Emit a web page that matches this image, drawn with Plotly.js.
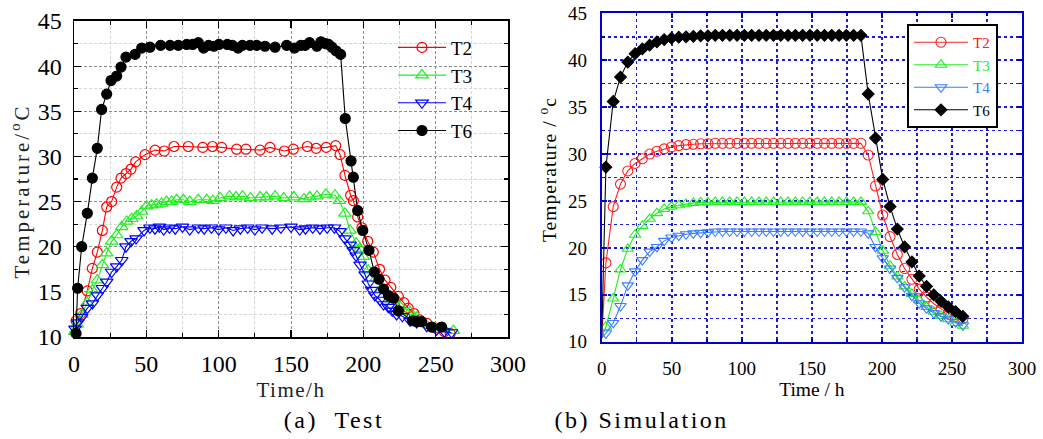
<!DOCTYPE html>
<html>
<head>
<meta charset="utf-8">
<script src="https://cdn.plot.ly/plotly-3.0.1.min.js"></script>
<style>html,body{margin:0;padding:0;background:#fff;}</style>
</head>
<body>
<div id="chart" style="width:1043px;height:439px;"></div>
<script>
// ---------- (a) Test ----------
const testT2_t = [1.5, 4.6, 9.2, 12.7, 16.1, 19.6, 22.6, 26, 29.5, 32.5, 36, 39.4, 42.6, 49.1, 56, 62.4, 69.1, 79, 89, 95.7, 102, 112.4, 118.8, 128.6, 135.5, 145.4, 151.6, 161.3, 167.4, 174.3, 180.9, 183.9, 187.3, 191.2, 193.1, 196.1, 199, 203, 206.9, 211.2, 215, 219, 224.2, 228, 231, 235, 239, 244, 250, 256, 260];
const testT2 = [11.8, 12.6, 15.1, 17.6, 19.4, 21.8, 24.4, 25.0, 26.6, 27.6, 28.1, 28.6, 29.4, 30.2, 30.7, 30.6, 31.1, 31.1, 31.0, 31.1, 31.0, 30.8, 30.8, 30.7, 31.0, 30.6, 30.8, 31.1, 30.9, 31.0, 31.2, 30.2, 27.9, 25.7, 25.1, 23.3, 22.1, 20.6, 19.4, 17.5, 16.3, 15.5, 14.5, 13.8, 13.2, 12.6, 11.9, 11.5, 11.0, 10.6, 10.4];

const testT3_t = [0.5, 2.3, 5.3, 9.2, 12.7, 16.1, 19.6, 22.6, 26, 29.5, 33, 36.4, 39.9, 43.3, 46.8, 50.2, 53.7, 57, 60.5, 64, 67.5, 71, 75.6, 80, 85.9, 91.7, 96, 101, 107.5, 112, 116.5, 122, 128.6, 133, 139, 145, 152, 159, 163, 168, 174.2, 180.4, 183.4, 187.3, 190.8, 195, 197.5, 200, 203.4, 208.8, 212.7, 219.6, 225.3, 232.3, 237, 242.6, 249.5, 255, 262.2];
const testT3 = [10.6, 11.4, 12.5, 13.8, 15.2, 16.3, 18.0, 19.3, 20.6, 21.3, 22.2, 22.8, 23.1, 23.4, 23.9, 24.5, 24.6, 24.7, 24.8, 25.0, 25.0, 25.2, 25.2, 25.0, 25.2, 25.2, 25.1, 25.4, 25.6, 25.5, 25.6, 25.4, 25.5, 25.5, 25.6, 25.4, 25.5, 25.3, 25.5, 25.6, 25.8, 25.7, 25.1, 23.7, 21.8, 20.4, 19.8, 18.9, 17.4, 16.5, 15.4, 14.2, 13.4, 12.8, 12.2, 11.5, 11.0, 11.0, 10.7];

const testT4_t = [0.7, 2.5, 5.3, 9.2, 12.7, 16.1, 19.6, 22.6, 26, 29.5, 33, 35.9, 39.4, 42.9, 48.4, 52.5, 56, 59, 62, 66, 70, 75, 80, 86, 90, 95, 100, 105, 110, 115, 120, 125, 130, 137, 143, 150, 156, 160, 165, 170, 175, 180, 183.9, 187.3, 190.8, 193, 195, 197.7, 201.2, 203.4, 205.8, 208, 211.5, 214, 217.3, 220, 223, 227, 232.3, 236.9, 243.8, 250.7, 256, 261];
const testT4 = [10.9, 11.6, 12.2, 13.2, 13.7, 14.6, 15.4, 16.1, 17.2, 17.8, 18.5, 20.0, 20.6, 20.9, 21.8, 22.1, 22.0, 22.2, 21.9, 22.1, 22.0, 22.2, 21.9, 22.1, 22.0, 22.1, 21.9, 22.1, 21.8, 22.0, 22.1, 21.9, 22.1, 22.0, 22.1, 22.2, 21.9, 22.0, 22.1, 22.0, 22.1, 22.1, 21.7, 20.9, 20.2, 19.6, 19.0, 18.0, 16.9, 15.9, 15.2, 14.6, 14.1, 13.6, 13.3, 12.9, 12.5, 12.3, 11.8, 11.6, 11.2, 10.8, 10.6, 10.5];

const testT6_t = [1.4, 2.5, 5.3, 9.2, 12.7, 16.1, 19.1, 22.6, 25.6, 29.5, 32.5, 35.9, 42.2, 46.8, 52.5, 59.9, 66.4, 72.1, 77.9, 82, 85.9, 89.6, 93, 96.7, 100.2, 106, 109.5, 113.4, 116.4, 121.7, 126.3, 132, 139, 147, 152.4, 156.8, 159.8, 162.8, 167.9, 170.7, 173.7, 176, 178.3, 181.1, 184.3, 187.5, 191.5, 193.1, 196.1, 199.6, 203.9, 207.6, 210.8, 214, 217.4, 220.9, 224.2, 234, 236.9, 240.2, 247.2, 254.1];
const testT6 = [10.4, 15.4, 20.0, 23.7, 27.6, 30.9, 35.2, 36.9, 38.4, 38.9, 39.9, 41.0, 41.3, 42.0, 42.1, 42.3, 42.3, 42.3, 42.4, 42.4, 42.6, 42.0, 42.3, 42.2, 42.4, 42.4, 42.3, 42.0, 42.3, 42.3, 42.3, 42.2, 42.1, 42.3, 42.0, 42.3, 42.3, 42.6, 42.2, 42.7, 42.5, 42.4, 42.1, 41.7, 41.3, 34.2, 29.5, 27.7, 24.0, 21.8, 19.6, 17.2, 16.4, 15.3, 14.6, 14.3, 12.9, 11.8, 11.7, 11.7, 11.1, 11.1];

// ---------- (b) Simulation ----------
const simTime = [0, 3, 8.2, 13.4, 18.6, 23.8, 29, 34.2, 39.4, 44.6, 49.8, 55, 60.2, 65.4, 70.6, 75.8, 81, 86.2, 91.4, 96.6, 101.8, 107, 112.2, 117.4, 122.6, 127.8, 133, 138.2, 143.4, 148.6, 153.8, 159, 164.2, 169.4, 174.6, 179.8, 185, 190.2, 195.4, 200.6, 205.8, 211, 216.2, 221.4, 226.6, 231.8, 237, 242.2, 247.4, 252.6, 257.8];
const simT2 = [10.4, 18.4, 24.4, 26.8, 28.2, 29.0, 29.5, 30.0, 30.3, 30.55, 30.75, 30.9, 31.0, 31.05, 31.1, 31.1, 31.15, 31.15, 31.15, 31.15, 31.15, 31.15, 31.15, 31.15, 31.15, 31.15, 31.15, 31.15, 31.15, 31.15, 31.15, 31.15, 31.15, 31.15, 31.15, 31.15, 31.15, 29.9, 26.6, 23.5, 21.2, 19.3, 17.8, 16.65, 15.6, 14.75, 14.05, 13.5, 13.05, 12.7, 12.45];
const simT3 = [10.5, 11.6, 14.6, 17.7, 19.9, 21.4, 22.35, 23.1, 23.7, 24.15, 24.4, 24.55, 24.7, 24.8, 24.85, 24.85, 24.9, 24.9, 24.9, 24.9, 24.9, 24.9, 24.9, 24.9, 24.9, 24.9, 24.9, 24.9, 24.9, 24.9, 24.9, 24.9, 24.9, 24.9, 24.9, 24.9, 24.9, 23.9, 21.7, 19.7, 18.1, 16.95, 15.9, 15.1, 14.4, 13.7, 13.2, 12.75, 12.4, 12.0, 11.7];
const simT4 = [10.4, 10.9, 12.0, 13.8, 16.0, 17.5, 18.7, 19.6, 20.1, 20.75, 21.1, 21.3, 21.45, 21.55, 21.6, 21.65, 21.75, 21.75, 21.75, 21.75, 21.75, 21.75, 21.75, 21.75, 21.75, 21.75, 21.75, 21.75, 21.75, 21.75, 21.75, 21.75, 21.75, 21.75, 21.75, 21.75, 21.75, 21.55, 20.1, 18.9, 17.8, 16.8, 15.8, 14.9, 14.1, 13.55, 13.05, 12.7, 12.4, 12.1, 11.75];
const simT6 = [10.4, 28.6, 35.6, 38.2, 39.8, 40.7, 41.2, 41.6, 41.95, 42.2, 42.35, 42.45, 42.5, 42.55, 42.6, 42.6, 42.65, 42.65, 42.65, 42.65, 42.65, 42.65, 42.65, 42.65, 42.65, 42.65, 42.65, 42.65, 42.65, 42.65, 42.65, 42.65, 42.65, 42.65, 42.65, 42.65, 42.65, 36.4, 31.7, 27.3, 24.4, 22.0, 20.1, 18.5, 17.0, 15.9, 15.0, 14.3, 13.7, 13.2, 12.7];

const seriesNames = ['T2', 'T3', 'T4', 'T6'];
const xTickVals = [0, 50, 100, 150, 200, 250, 300];
const yTickVals = [10, 15, 20, 25, 30, 35, 40, 45];

const SERIF = 'Liberation Serif, Tinos, Times New Roman, Times, serif';

const testStyle = [
  {color: '#ff0000', symbol: 'circle-open', size: 10},
  {color: '#22ee22', symbol: 'triangle-up-open', size: 11},
  {color: '#0000ff', symbol: 'triangle-down-open', size: 11},
  {color: '#000000', symbol: 'circle', size: 10}
];
const simStyle = [
  {color: '#ff2020', symbol: 'circle-open', size: 10},
  {color: '#22ee22', symbol: 'triangle-up-open', size: 10},
  {color: '#3a7dff', symbol: 'triangle-down-open', size: 10},
  {color: '#000000', symbol: 'diamond', size: 9}
];

const testX = [testT2_t, testT3_t, testT4_t, testT6_t];
const testY = [testT2, testT3, testT4, testT6];
const simY = [simT2, simT3, simT4, simT6];
// the simulated curves start at the corner without a drawn marker
const simMarkerOpacity = simTime.map((t, i) => (i === 0 ? 0 : 1));

const traces = [];
for (let i = 0; i < 4; i++) {
  const s = testStyle[i];
  traces.push({
    type: 'scatter', mode: 'lines+markers', name: seriesNames[i],
    x: testX[i], y: testY[i], xaxis: 'x', yaxis: 'y', legend: 'legend',
    cliponaxis: false,
    line: {color: s.color, width: 1.1},
    marker: {symbol: s.symbol, size: s.size, color: s.color, line: {color: s.color, width: 1.2}}
  });
}
for (let i = 0; i < 4; i++) {
  const s = simStyle[i];
  traces.push({
    type: 'scatter', mode: 'lines+markers',
    name: '<span style="color:' + s.color + '">' + seriesNames[i] + '</span>',
    x: simTime, y: simY[i], xaxis: 'x2', yaxis: 'y2', legend: 'legend2',
    cliponaxis: false,
    line: {color: s.color, width: 1.1},
    marker: {symbol: s.symbol, size: s.size, color: s.color, opacity: simMarkerOpacity, line: {color: s.color, width: 1.1}}
  });
}

const leftAxisCommon = {
  showline: true, linecolor: '#000', linewidth: 1.5, mirror: 'ticks',
  ticks: 'inside', ticklen: 7, tickwidth: 1.2, tickcolor: '#000',
  showgrid: true, gridcolor: '#8c8c8c', gridwidth: 1, griddash: '3px,2px',
  zeroline: false,
  tickfont: {family: SERIF, size: 24, color: '#000'}
};
const rightAxisCommon = {
  showline: true, linecolor: '#0000cc', linewidth: 2, mirror: 'ticks',
  ticks: 'inside', ticklen: 5, tickwidth: 1.5, tickcolor: '#0000cc',
  showgrid: true, gridcolor: '#1a1ae0', gridwidth: 1.5, griddash: 'dot',
  zeroline: false,
  tickfont: {family: SERIF, size: 19, color: '#000'}
};

const layout = {
  width: 1043, height: 439,
  margin: {l: 0, r: 0, t: 0, b: 0},
  paper_bgcolor: '#fff', plot_bgcolor: '#fff',
  font: {family: SERIF},
  showlegend: true,
  xaxis: Object.assign({}, leftAxisCommon, {
    domain: [0.07095, 0.48706], anchor: 'y', range: [0, 300],
    tickmode: 'array', tickvals: xTickVals, ticklabelstandoff: 5,
    minor: {dtick: 25, tick0: 0, ticks: 'inside', ticklen: 4, tickcolor: '#000', showgrid: true, gridcolor: '#d6d6d6', gridwidth: 1},
    title: {text: 'Time/h', font: {family: SERIF, size: 21, color: '#222'}, standoff: 6}
  }),
  yaxis: Object.assign({}, leftAxisCommon, {
    domain: [0.2323, 0.9522], anchor: 'x', range: [10, 45],
    tickmode: 'array', tickvals: yTickVals, ticklabelstandoff: 6,
    minor: {dtick: 2.5, tick0: 0, ticks: 'inside', ticklen: 4, tickcolor: '#000', showgrid: true, gridcolor: '#d6d6d6', gridwidth: 1},
    title: {text: 'Temperature/<sup>o</sup>C', font: {family: SERIF, size: 21, color: '#222'}, standoff: 2}
  }),
  xaxis2: Object.assign({}, rightAxisCommon, {
    domain: [0.5769, 0.9799], anchor: 'y2', range: [0, 300],
    tickmode: 'array', tickvals: xTickVals, ticklabelstandoff: 8,
    minor: {dtick: 25, tick0: 0, ticks: 'inside', ticklen: 3, tickcolor: '#0000cc', showgrid: true, gridcolor: '#1a1ae0', gridwidth: 1.5, griddash: 'dot'},
    title: {text: 'Time / h', font: {family: SERIF, size: 19.5, color: '#000'}, standoff: 3}
  }),
  yaxis2: Object.assign({}, rightAxisCommon, {
    domain: [0.2216, 0.9697], anchor: 'x2', range: [10, 45],
    tickmode: 'array', tickvals: yTickVals, ticklabelstandoff: 9,
    minor: {dtick: 2.5, tick0: 0, ticks: 'inside', ticklen: 3, tickcolor: '#0000cc', showgrid: true, gridcolor: '#1a1ae0', gridwidth: 1.5, griddash: 'dot'},
    title: {text: 'Temperature / <sup>o</sup>c', font: {family: SERIF, size: 19.5, color: '#000'}, standoff: 6}
  }),
  legend: {
    x: 0.3768, y: 0.935, xanchor: 'left', yanchor: 'top',
    bgcolor: 'rgba(0,0,0,0)', borderwidth: 0, itemwidth: 48,
    font: {family: SERIF, size: 19, color: '#000'}, traceorder: 'normal'
  },
  legend2: {
    x: 0.8696, y: 0.9453, xanchor: 'left', yanchor: 'top',
    bgcolor: '#fff', bordercolor: '#000', borderwidth: 2, itemwidth: 54,
    font: {family: SERIF, size: 15, color: '#000'}, traceorder: 'normal'
  },
  annotations: [
    {text: '(a)  Test', x: 0.3202, y: 0.0433, xref: 'paper', yref: 'paper', xanchor: 'center', yanchor: 'middle', showarrow: false, font: {family: SERIF, size: 24, color: '#000'}},
    {text: '(b) Simulation', x: 0.6146, y: 0.0433, xref: 'paper', yref: 'paper', xanchor: 'center', yanchor: 'middle', showarrow: false, font: {family: SERIF, size: 24, color: '#000'}}
  ]
};

function nudge(el, dx, dy) {
  const t = el.getAttribute('transform') || '';
  el.setAttribute('transform', 'translate(' + dx + ',' + dy + ') ' + t);
}

Plotly.newPlot('chart', traces, layout, {displayModeBar: false, staticPlot: true}).then(function (gd) {
  // the source figure uses letter-spaced captions and titles
  gd.querySelectorAll('.annotation-text').forEach(function (el) { el.style.letterSpacing = '2.5px'; });
  gd.querySelectorAll('.xtitle').forEach(function (el) { el.style.letterSpacing = '1.5px'; });
  gd.querySelectorAll('.ytitle').forEach(function (el) { el.style.letterSpacing = '3px'; nudge(el, 0, 12); });
  gd.querySelectorAll('.y2title').forEach(function (el) { el.style.letterSpacing = '1px'; nudge(el, 0, -8); });
});
</script>
</body>
</html>
